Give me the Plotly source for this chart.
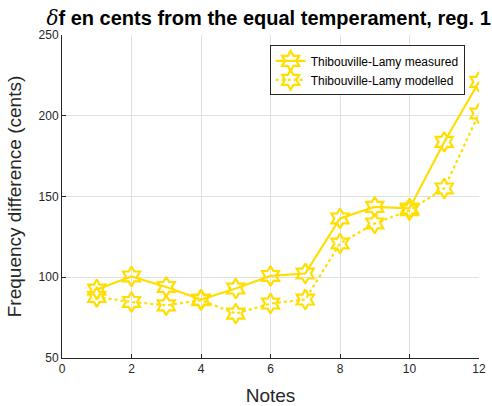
import plotly.graph_objects as go

notes = [1, 2, 3, 4, 5, 6, 7, 8, 9, 10, 11, 12]
measured = [92.4, 100.5, 94, 86.2, 93, 100.8, 102.3, 136.4, 143.6, 142.6, 183.8, 221]
modelled = [87.8, 84.7, 82.6, 85.8, 77.5, 83.7, 86.2, 120.9, 133.3, 141.5, 155, 201.4]
x_ticks = [0, 2, 4, 6, 8, 10, 12]
y_ticks = [50, 100, 150, 200, 250]
names = ["Thibouville-Lamy measured", "Thibouville-Lamy modelled"]

color = "rgb(255,222,0)"
font = "Liberation Sans, Arial, sans-serif"
axc = "#262626"

fig = go.Figure()
fig.add_trace(go.Scatter(x=notes, y=measured, name=names[0], mode="lines+markers",
                         line=dict(color=color, width=2.2),
                         marker=dict(symbol="hexagram-open", size=15, color=color,
                                     line=dict(color=color, width=2.2))))
fig.add_trace(go.Scatter(x=notes, y=modelled, name=names[1], mode="lines+markers",
                         line=dict(color=color, width=2.2, dash="dot"),
                         marker=dict(symbol="hexagram-open", size=15, color=color,
                                     line=dict(color=color, width=2.2))))

fig.update_layout(
    width=492, height=406,
    margin=dict(l=62, r=13, t=35, b=48),
    paper_bgcolor="white", plot_bgcolor="white",
    font=dict(family=font, color=axc),
    title=dict(text="<span style='font-weight:normal;font-family:DejaVu Serif'><i>δ</i></span>f en cents from the equal temperament, reg. 1",
               x=0.546, xanchor="center", y=0.955, yanchor="middle",
               font=dict(size=20, color="black", family=font, weight="bold")),
    xaxis=dict(range=[0, 12], tickvals=x_ticks, ticks="inside", ticklen=4,
               tickcolor=axc, showline=True, linecolor=axc, linewidth=1,
               showgrid=True, gridcolor="#e1e1e1", zeroline=False, automargin=False,
               tickfont=dict(size=12, color=axc),
               title=dict(text="Notes", font=dict(size=19, color=axc), standoff=13)),
    yaxis=dict(range=[50, 250], tickvals=y_ticks, ticks="inside", ticklen=4,
               tickcolor=axc, showline=True, linecolor=axc, linewidth=1,
               showgrid=True, gridcolor="#e1e1e1", zeroline=False, automargin=False,
               tickfont=dict(size=12, color=axc),
               title=dict(text="Frequency difference (cents)", font=dict(size=19, color=axc), standoff=11)),
    legend=dict(x=0.498, y=0.968, xanchor="left", yanchor="top",
                bgcolor="white", bordercolor=axc, borderwidth=1,
                font=dict(size=12, color="black"), tracegroupgap=0,
                itemwidth=30),
    showlegend=True,
)

fig.write_html("out.html", config={"displayModeBar": False},
               post_script="document.body.style.margin='0';")
